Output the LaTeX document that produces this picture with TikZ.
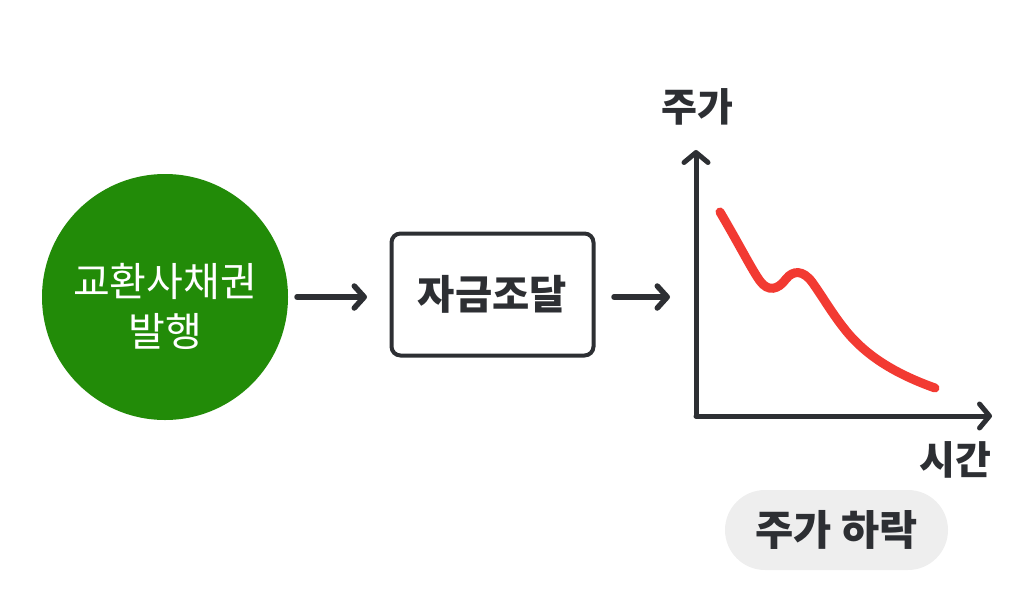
\documentclass[tikz,border=0pt]{standalone}
\usepackage{fontspec}
\newfontfamily\kr{Noto Sans CJK KR}
\usetikzlibrary{arrows.meta}
\definecolor{ink}{HTML}{2D2F33}
\definecolor{grn}{HTML}{228B08}
\definecolor{redc}{HTML}{F23A32}
\definecolor{pill}{HTML}{EEEEEE}
\tikzset{
  flow/.style={ink,line width=5.5pt,line cap=round,-{Straight Barb[length=10pt,width=22pt,line cap=round,line join=round]}},
  axis/.style={ink,line width=5pt,line cap=round,-{Straight Barb[length=10pt,width=24pt,line cap=round,line join=round]}},
  lbl/.style={text=ink,font=\kr\bfseries\fontsize{39}{42}\selectfont,inner sep=0pt}
}
\begin{document}
\begin{tikzpicture}[x=1pt,y=-1pt]
\useasboundingbox (0,0) rectangle (1024,597);
\node[circle,fill=grn,minimum size=246pt,inner sep=0pt,
  label={[text=white,align=center,inner sep=0pt,yshift=-9pt,font=\kr\fontsize{40}{50}\selectfont]center:교환사채권\\발행}] (issue) at (165,297) {};
\node[draw=ink,line width=4pt,rounded corners=9pt,minimum width=202pt,minimum height=122pt,lbl,font=\kr\bfseries\fontsize{40.5}{44}\selectfont] (fund) at (492.5,294.5) {자금조달};
\coordinate (a1s) at (297,297);
\coordinate (a1e) at (367,297);
\coordinate (a2s) at (614,297);
\coordinate (a2e) at (670,297);
\draw[flow] (a1s) -- (a1e);
\draw[flow] (a2s) -- (a2e);
\coordinate (o) at (696,416);
\coordinate (ytop) at (696,150);
\coordinate (xend) at (992,416);
\draw[axis] (o) -- (ytop);
\draw[axis] (o) -- (xend);
\draw[redc,line width=9pt,line cap=round] (720,212) .. controls (740,246) and (752,270) .. (760,281)
  .. controls (768,292) and (778,290) .. (786,279)
  .. controls (793,270) and (803,270) .. (812,282)
  .. controls (822,296) and (832,313) .. (843,327)
  .. controls (862,352) and (890,372) .. (935,388);
\node[lbl] (price) at (697,107) {주가};
\node[lbl] (time) at (955,460) {시간};
\node[fill=pill,rounded corners=40pt,minimum width=223pt,minimum height=80pt,lbl,font=\kr\bfseries\fontsize{41.5}{44}\selectfont] (drop) at (836.5,530) {주가 하락};
\end{tikzpicture}
\end{document}
